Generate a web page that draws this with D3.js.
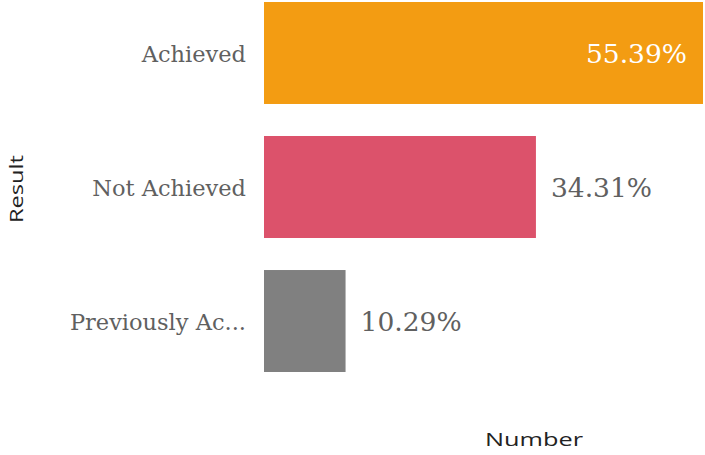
<!DOCTYPE html>
<meta charset="utf-8">
<style>
  body { margin: 0; background: #fff; }
  .cat { font-family: "DejaVu Serif", Georgia, serif; font-size: 22.5px; fill: #606060; }
  .val { font-family: "DejaVu Serif", Georgia, serif; font-size: 26.5px; fill: #606060; }
  .title { font-family: "Open Sans", sans-serif; font-size: 19px; fill: #222; }
</style>
<body>
<script src="https://cdnjs.cloudflare.com/ajax/libs/d3/7.8.5/d3.min.js"></script>
<script>

var categories = ["Achieved", "Not Achieved", "Previously Ac..."],
    values = [55.39, 34.31, 10.29],
    colors = ["#f39c12", "#dc526b", "#808080"];

var width = 705,
    height = 455;

var svg = d3.select("body").append("svg")
    .attr("width", width)
    .attr("height", height);

var x = d3.scaleLinear()
    .domain([0, 55.39])
    .range([264, 703]);

var y = d3.scaleBand()
    .domain(categories)
    .range([2, 372])
    .paddingInner(0.239)
    .paddingOuter(0);

var data = categories.map(function(c, i) {
    return {cat: c, value: values[i], color: colors[i]};
});

svg.selectAll("rect.bar")
    .data(data)
  .enter().append("rect")
    .attr("class", "bar")
    .attr("x", x(0))
    .attr("y", function(d) { return y(d.cat); })
    .attr("width", function(d) { return x(d.value) - x(0); })
    .attr("height", y.bandwidth())
    .attr("fill", function(d) { return d.color; });

// category labels
svg.selectAll("text.cat")
    .data(data)
  .enter().append("text")
    .attr("class", "cat")
    .attr("x", 246)
    .attr("y", function(d) { return y(d.cat) + y.bandwidth() / 2; })
    .attr("dy", "0.42em")
    .attr("text-anchor", "end")
    .text(function(d) { return d.cat; });

// value labels, inside the long bar, outside the others
svg.selectAll("text.val")
    .data(data)
  .enter().append("text")
    .attr("class", "val")
    .attr("x", function(d, i) { return i == 0 ? x(d.value) - 16 : x(d.value) + 15; })
    .attr("y", function(d) { return y(d.cat) + y.bandwidth() / 2; })
    .attr("dy", "0.38em")
    .attr("text-anchor", function(d, i) { return i == 0 ? "end" : "start"; })
    .style("fill", function(d, i) { return i == 0 ? "#fff" : null; })
    .text(function(d) { return d.value.toFixed(2) + "%"; });

svg.append("text")
    .attr("class", "title")
    .attr("transform", "translate(23,189) rotate(-90)")
    .attr("text-anchor", "middle")
    .attr("textLength", 68)
    .attr("lengthAdjust", "spacingAndGlyphs")
    .text("Result");

svg.append("text")
    .attr("class", "title")
    .attr("x", 534)
    .attr("y", 446)
    .attr("text-anchor", "middle")
    .attr("textLength", 98)
    .attr("lengthAdjust", "spacingAndGlyphs")
    .text("Number");
</script>
